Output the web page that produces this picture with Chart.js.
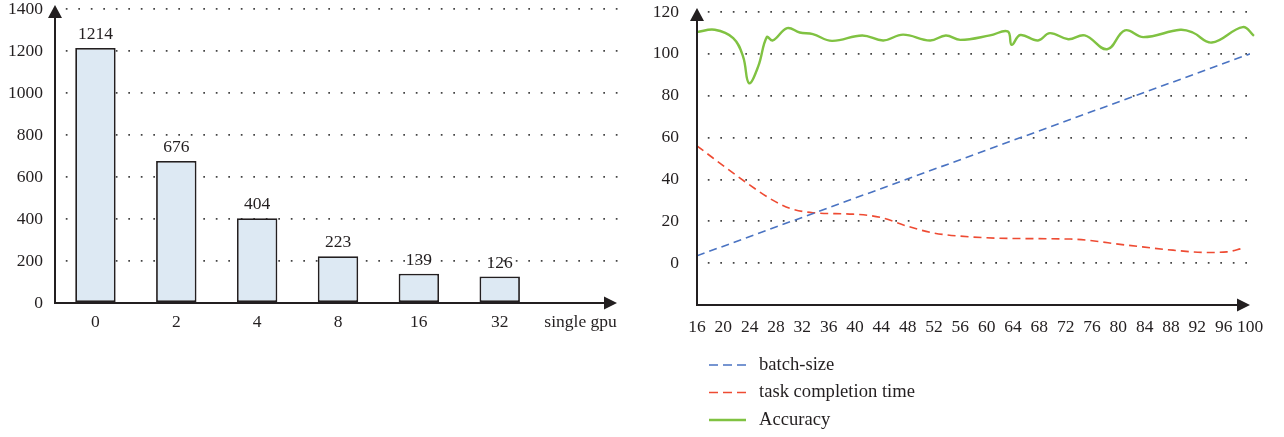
<!DOCTYPE html>
<html>
<head>
<meta charset="utf-8">
<script src="https://cdn.jsdelivr.net/npm/chart.js@4/dist/chart.umd.min.js"></script>
<style>
  html, body { margin: 0; padding: 0; background: #fff; }
  #wrap { position: relative; width: 1284px; height: 437px; overflow: hidden; }
  .pane { position: absolute; top: 0; height: 437px; }
  #leftPane { left: 0; width: 640px; }
  #rightPane { left: 640px; width: 644px; }
</style>
</head>
<body>
<div id="wrap">
  <div class="pane" id="leftPane"><canvas id="barChart" width="640" height="437"></canvas></div>
  <div class="pane" id="rightPane"><canvas id="lineChart" width="644" height="437"></canvas></div>
</div>
<script>
// ---- Left panel: time per GPU configuration ----
const gpuLabels = ['0', '2', '4', '8', '16', '32', 'single gpu'];
const gpuTimes = [1214, 676, 404, 223, 139, 126, null];
const barTicks = [0, 200, 400, 600, 800, 1000, 1200, 1400];

// ---- Right panel: training curves ----
const batchX = [16, 100];
const batchY = [3.5, 100];

const taskX = [16, 23.3, 27.5, 30.1, 33.6, 39.7, 43.8, 47.9, 51.8, 56, 63.5, 72.7, 81.3, 88.3, 93.5, 96.5, 98.8];
const taskY = [56, 38.9, 30.1, 26.2, 24.1, 23.4, 21.9, 17.7, 14.5, 12.9, 11.8, 11.5, 8.6, 6.2, 5.1, 5.4, 7];

const accX = [16, 18.7, 21.5, 23, 23.9, 25.3, 26.6, 27.5, 29.7, 31.6, 33.6, 36.5, 41.1, 44.3, 47.3, 51.4, 53.8, 56, 60.5, 63.2, 63.8, 65.1, 67.8, 69.6, 72.4, 74.9, 78.3, 81, 83.8, 89.4, 91.3, 94.2, 98.9, 100.6];
const accY = [110.4, 111.5, 107.5, 98.7, 86, 94, 108, 106.4, 112.3, 110.2, 109.4, 106.2, 108.8, 106.4, 109.2, 106.4, 108.8, 106.7, 108.8, 110.7, 104.3, 109, 106.4, 109.9, 107, 108.8, 102.2, 111.2, 108, 111.5, 110.2, 105.4, 112.8, 108.6];

const xTickValues = [16, 20, 24, 28, 32, 36, 40, 44, 48, 52, 56, 60, 64, 68, 72, 76, 80, 84, 88, 92, 96, 100];
const yTickValues = [0, 20, 40, 60, 80, 100, 120];

const legendItems = [
  { text: 'batch-size', color: '#4a73c2', dash: [9, 5], width: 1.6 },
  { text: 'task completion time', color: '#ee4b33', dash: [9, 5], width: 1.6 },
  { text: 'Accuracy', color: '#80c242', dash: [], width: 2.4 }
];

const SERIF = "'Liberation Serif', 'DejaVu Serif', serif";
const INK = '#231f20';
const DOT = '#444444';
const TICK_SIZE = 17.5;

function pairs(xs, ys) { return xs.map((x, i) => ({ x: x, y: ys[i] })); }

// Axes with arrowheads, drawn over the plot
const arrowAxes = {
  id: 'arrowAxes',
  afterDraw(chart, args, opts) {
    const { ctx, chartArea: a } = chart;
    const x0 = a.left, y0 = a.bottom;
    const topTip = opts.topTip, rightTip = opts.rightTip;
    ctx.save();
    ctx.strokeStyle = INK;
    ctx.fillStyle = INK;
    ctx.lineWidth = 2;
    ctx.setLineDash([]);
    ctx.beginPath();
    ctx.moveTo(x0, y0);
    ctx.lineTo(x0, topTip + 10);
    ctx.moveTo(x0 - 1, y0);
    ctx.lineTo(rightTip - 10, y0);
    ctx.stroke();
    ctx.beginPath();
    ctx.moveTo(x0, topTip);
    ctx.lineTo(x0 - 7, topTip + 13);
    ctx.lineTo(x0 + 7, topTip + 13);
    ctx.closePath();
    ctx.fill();
    ctx.beginPath();
    ctx.moveTo(rightTip, y0);
    ctx.lineTo(rightTip - 13, y0 - 6.5);
    ctx.lineTo(rightTip - 13, y0 + 6.5);
    ctx.closePath();
    ctx.fill();
    ctx.restore();
  }
};

// Value labels above each bar
const barValues = {
  id: 'barValues',
  afterDatasetsDraw(chart) {
    const { ctx } = chart;
    const meta = chart.getDatasetMeta(0);
    ctx.save();
    ctx.font = TICK_SIZE + 'px ' + SERIF;
    ctx.fillStyle = INK;
    ctx.textAlign = 'center';
    ctx.textBaseline = 'alphabetic';
    meta.data.forEach((bar, i) => {
      const v = chart.data.datasets[0].data[i];
      if (v == null) return;
      ctx.fillText(String(v), bar.x, bar.y - 9);
    });
    ctx.restore();
  }
};

// Stacked legend under the line panel
const stackedLegend = {
  id: 'stackedLegend',
  afterDraw(chart, args, opts) {
    const { ctx } = chart;
    ctx.save();
    ctx.font = '18.6px ' + SERIF;
    ctx.textBaseline = 'middle';
    ctx.textAlign = 'left';
    opts.items.forEach((it, i) => {
      const y = opts.top + i * opts.step;
      ctx.strokeStyle = it.color;
      ctx.lineWidth = it.width;
      ctx.setLineDash(it.dash);
      ctx.beginPath();
      ctx.moveTo(opts.x, y);
      ctx.lineTo(opts.x + 37, y);
      ctx.stroke();
      ctx.setLineDash([]);
      ctx.fillStyle = INK;
      ctx.fillText(it.text, opts.x + 50, y);
    });
    ctx.restore();
  }
};

function fixedY(width) {
  return function (scale) {
    scale.width = width;
    scale.paddingTop = 0; scale.paddingBottom = 0;
  };
}
function fixedX(height) {
  return function (scale) {
    scale.height = height;
    scale.paddingLeft = 0; scale.paddingRight = 0;
  };
}

new Chart(document.getElementById('barChart'), {
  type: 'bar',
  data: {
    labels: gpuLabels,
    datasets: [{
      data: gpuTimes,
      backgroundColor: '#dde9f3',
      borderColor: INK,
      borderWidth: 1.8,
      borderSkipped: false,
      barPercentage: 0.5,
      categoryPercentage: 1.0
    }]
  },
  options: {
    responsive: false,
    animation: false,
    events: [],
    layout: { padding: { top: 9, right: 19, left: 0, bottom: 0 } },
    plugins: {
      legend: { display: false },
      tooltip: { enabled: false },
      arrowAxes: { topTip: 5, rightTip: 617 }
    },
    scales: {
      x: {
        type: 'category',
        offset: true,
        grid: { display: false, drawTicks: false },
        border: { display: false },
        ticks: { color: INK, font: { family: SERIF, size: TICK_SIZE }, padding: 9, maxRotation: 0, autoSkip: false },
        afterFit: fixedX(134)
      },
      y: {
        min: 0,
        max: 1400,
        afterBuildTicks(scale) { scale.ticks = barTicks.map(v => ({ value: v })); },
        grid: {
          drawTicks: false,
          lineWidth: 1.7,
          color: ctx => (ctx.tick && ctx.tick.value === 0 ? 'rgba(0,0,0,0)' : DOT)
        },
        border: { display: false, dash: [1.7, 10.8], dashOffset: 1.7 },
        ticks: { color: INK, font: { family: SERIF, size: TICK_SIZE }, padding: 12, callback: v => String(v) },
        afterFit: fixedY(55)
      }
    }
  },
  plugins: [arrowAxes, barValues]
});

new Chart(document.getElementById('lineChart'), {
  type: 'line',
  data: {
    datasets: [
      {
        label: 'batch-size',
        data: pairs(batchX, batchY),
        borderColor: '#4a73c2',
        borderWidth: 1.6,
        borderDash: [8, 5],
        pointRadius: 0,
        tension: 0
      },
      {
        label: 'task completion time',
        data: pairs(taskX, taskY),
        borderColor: '#ee4b33',
        borderWidth: 1.6,
        borderDash: [8, 5],
        pointRadius: 0,
        cubicInterpolationMode: 'monotone'
      },
      {
        label: 'Accuracy',
        data: pairs(accX, accY),
        borderColor: '#80c242',
        borderWidth: 2.4,
        pointRadius: 0,
        tension: 0.4,
        clip: false
      }
    ]
  },
  options: {
    responsive: false,
    animation: false,
    events: [],
    layout: { padding: { top: 12, right: 34, left: 0, bottom: 0 } },
    plugins: {
      legend: { display: false },
      tooltip: { enabled: false },
      arrowAxes: { topTip: 8, rightTip: 610 },
      stackedLegend: { items: legendItems, x: 69, top: 365, step: 27.5 }
    },
    scales: {
      x: {
        type: 'linear',
        min: 16,
        max: 100,
        afterBuildTicks(scale) { scale.ticks = xTickValues.map(v => ({ value: v })); },
        grid: { display: false, drawTicks: false },
        border: { display: false },
        ticks: { color: INK, font: { family: SERIF, size: TICK_SIZE }, padding: 12, maxRotation: 0, autoSkip: false, callback: v => String(v) },
        afterFit: fixedX(132)
      },
      y: {
        min: -20,
        max: 120,
        afterBuildTicks(scale) { scale.ticks = yTickValues.map(v => ({ value: v })); },
        grid: {
          drawTicks: false,
          lineWidth: 1.7,
          color: DOT
        },
        border: { display: false, dash: [1.7, 10.8], dashOffset: 1.7 },
        ticks: { color: INK, font: { family: SERIF, size: TICK_SIZE }, padding: 18, callback: v => String(v) },
        afterFit: fixedY(57)
      }
    }
  },
  plugins: [arrowAxes, stackedLegend]
});
</script>
</body>
</html>
